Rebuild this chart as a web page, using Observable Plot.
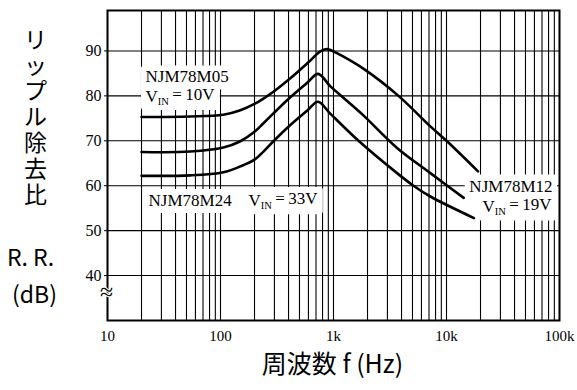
<!DOCTYPE html>
<html>
<head>
<meta charset="utf-8">
<script src="https://cdn.jsdelivr.net/npm/d3@7"></script>
<script src="https://cdn.jsdelivr.net/npm/@observablehq/plot@0.6"></script>
<style>
  html, body { margin: 0; padding: 0; background: #fff; }
  #chart svg { display: block; }
</style>
</head>
<body>
<div id="chart"></div>
<script>
// ---- data ----
// NJM78M05, VIN = 10V
const freq05 = [20, 54, 106, 150, 200, 240, 294, 415, 590, 765, 870, 940, 1150, 1850, 3760, 7200, 10000, 19000];
const db05   = [75.3, 75.4, 75.8, 76.8, 78.2, 79.4, 80.9, 83.9, 87.3, 89.9, 90.4, 90.2, 89.1, 86.0, 80.0, 73.2, 70.0, 63.2];
// NJM78M12, VIN = 19V
const freq12 = [20, 54, 106, 150, 200, 240, 294, 415, 590, 730, 940, 1400, 1850, 3650, 7200, 14200];
const db12   = [67.5, 67.6, 68.5, 69.9, 72.0, 73.9, 76.1, 79.7, 83.0, 84.9, 82.1, 78.3, 75.6, 68.4, 62.8, 57.3];
// NJM78M24, VIN = 33V
const freq24 = [20, 54, 106, 150, 200, 240, 294, 415, 590, 730, 940, 1665, 3650, 5100, 7200, 17500];
const db24   = [62.2, 62.3, 63.0, 64.3, 65.8, 67.6, 69.9, 73.5, 76.8, 78.7, 76.0, 70.0, 62.8, 60.0, 57.6, 52.8];

// axis ticks
const xTickValues = [10, 100, 1000, 10000, 100000];
const xTickLabels = ["10", "100", "1k", "10k", "100k"];
const yTickValues = [40, 50, 60, 70, 80, 90];
const decades = [10, 100, 1000, 10000];
const multipliers = [1, 2, 3, 4, 5, 6, 7, 8, 9];

// curve annotations (anchor in data units)
const labelText = ["NJM78M05", "VIN=10V", "NJM78M24", "VIN=33V", "NJM78M12", "VIN=19V"];
const labelFreq = [21.7, 21.7, 23.1, 177, 86700, 85000];
const labelDb   = [84.2, 79.9, 56.7, 56.7, 59.9, 55.3];
const labelAnchor = ["start", "start", "start", "start", "end", "end"];

// titles
const yTitle = "リップル除去比";
const yUnit1 = "R. R.";
const yUnit2 = "(dB)";
const xTitle = "周波数 f (Hz)";
const breakMark = "≈";

// ---- build ----
const toSeries = (fs, ds) => fs.map((f, i) => ({f, db: ds[i]}));
const s05 = toSeries(freq05, db05);
const s12 = toSeries(freq12, db12);
const s24 = toSeries(freq24, db24);
const labels = labelText.map((t, i) => ({t, f: labelFreq[i], db: labelDb[i], a: labelAnchor[i]}));
const xGrid = decades.flatMap(d => multipliers.map(m => m * d)).concat([100000]);

const serif = "'Liberation Serif', 'Times New Roman', serif";
const sans = "'Noto Sans CJK JP', 'Noto Sans', sans-serif";

const lineOpts = {x: "f", y: "db", curve: "catmull-rom", stroke: "#000", strokeWidth: 2.6};
const labelMark = (anchor) => Plot.text(labels.filter(d => d.a === anchor), {
  x: "f", y: "db", text: "t", textAnchor: anchor,
  fontFamily: serif, fontSize: 17, fill: "#000",
  stroke: "#fff", strokeWidth: 6, strokeLinejoin: "round"
});

const chart = Plot.plot({
  width: 577,
  height: 390,
  marginLeft: 107,
  marginRight: 18,
  marginTop: 10,
  marginBottom: 70,
  style: {background: "#fff", color: "#000"},
  x: {type: "log", domain: [10, 100000]},
  y: {domain: [30, 99]},
  marks: [
    Plot.gridX(xGrid, {stroke: "#000", strokeOpacity: 1, strokeWidth: 1.1}),
    Plot.gridY(yTickValues, {stroke: "#000", strokeOpacity: 1, strokeWidth: 1.1}),
    Plot.frame({stroke: "#000", strokeWidth: 2}),
    Plot.axisX(xTickValues, {
      tickSize: 0, tickPadding: 10, label: null,
      tickFormat: d => xTickLabels[xTickValues.indexOf(d)],
      fontFamily: serif, fontSize: 15
    }),
    Plot.axisY(yTickValues, {
      tickSize: 3, tickPadding: 3, label: null,
      fontFamily: serif, fontSize: 16
    }),
    Plot.line(s05, lineOpts),
    Plot.line(s12, lineOpts),
    Plot.line(s24, lineOpts),
    labelMark("start"),
    labelMark("end"),
    Plot.text([breakMark], {
      text: d => d, frameAnchor: "bottom-left", textAnchor: "middle", dy: -21, dx: -1,
      fontFamily: serif, fontSize: 24, fill: "#000",
      stroke: "#fff", strokeWidth: 2
    }),
    Plot.text([yTitle.split("").join("\n")], {
      text: d => d, frameAnchor: "left", textAnchor: "middle", dx: -72, dy: -48.5,
      lineAnchor: "middle", lineHeight: 1.12,
      fontFamily: sans, fontSize: 23, fill: "#000"
    }),
    Plot.text([yUnit1], {
      text: d => d, frameAnchor: "left", textAnchor: "middle", dx: -77, dy: 93,
      fontFamily: sans, fontSize: 23, fill: "#000"
    }),
    Plot.text([yUnit2], {
      text: d => d, frameAnchor: "left", textAnchor: "middle", dx: -73, dy: 130,
      fontFamily: sans, fontSize: 23, fill: "#000"
    }),
    Plot.text([xTitle], {
      text: d => d, frameAnchor: "bottom", dx: -1, dy: 52,
      fontFamily: sans, fontSize: 25, fill: "#000"
    })
  ]
});

document.getElementById("chart").appendChild(chart);

// render VIN with a subscript, and give curve labels a white box (as in the reference)
d3.select(chart).selectAll("text").each(function () {
  const t = this.textContent;
  if (t.startsWith("VIN")) {
    const rest = t.slice(3);
    const sel = d3.select(this);
    sel.text(null);
    sel.append("tspan").text("V");
    sel.append("tspan").attr("font-size", "0.62em").attr("dy", "0.3em").text("IN");
    sel.append("tspan").attr("dy", "-0.3em").text(rest.replace("=", "\u2009=\u2009"));
  }
});
d3.select(chart).selectAll("text").filter(function () {
  const t = this.textContent.replace(/\s/g, "");
  return labelText.includes(t);
}).each(function () {
  const b = this.getBBox();
  const pad = 1.5;
  const r = d3.select(this.parentNode).insert("rect", () => this)
    .attr("x", b.x - pad).attr("y", b.y + 1).attr("width", b.width + 2 * pad).attr("height", b.height - 1)
    .attr("fill", "#fff");
  const tr = this.getAttribute("transform");
  if (tr) r.attr("transform", tr);
});
</script>
</body>
</html>
